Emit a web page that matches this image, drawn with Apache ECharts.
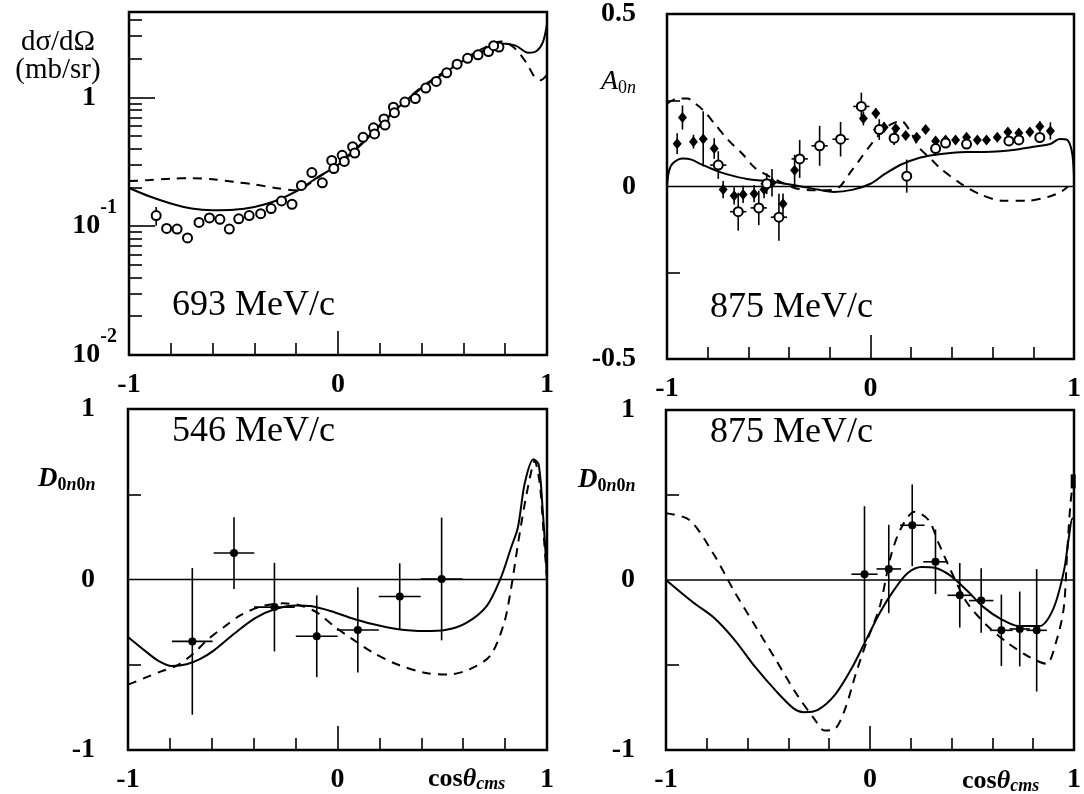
<!DOCTYPE html>
<html><head><meta charset="utf-8">
<script src="https://cdn.jsdelivr.net/npm/echarts@6/dist/echarts.min.js"></script>
<style>html,body{margin:0;padding:0;background:#fff}#c{width:1084px;height:794px}</style>
</head><body><div id="c"></div><script>
const SERIF = '"Liberation Serif","Times New Roman",serif';

// ---- tick / label values ----
const xLabelVals = [-1, 0, 1];
const xMinorTicks = [-0.8, -0.6, -0.4, -0.2, 0.2, 0.4, 0.6, 0.8];
const xMajorTicks = [0];
const logLabelVals = [0.01, 0.1, 1];
const logMinorTicks = [0.02,0.03,0.04,0.05,0.06,0.07,0.08,0.09,0.2,0.3,0.4,0.5,0.6,0.7,0.8,0.9,2,3,4];
const logMajorTicks = [0.1, 1];
const aLabelVals = [-0.5, 0, 0.5];
const aTicks = [-0.25, 0.25];
const dLabelVals = [-1, 0, 1];
const dTicks = [-0.5, 0.5];
const energyLabels = ['693 MeV/c', '875 MeV/c', '546 MeV/c', '875 MeV/c'];

// ---- panel 1: dsigma/dOmega at 693 MeV/c ----
const xsPoints = [
 [-0.87,0.121],[-0.82,0.096],[-0.77,0.095],[-0.72,0.081],[-0.665,0.107],[-0.615,0.116],[-0.565,0.113],
 [-0.52,0.095],[-0.475,0.114],[-0.425,0.121],[-0.37,0.125],[-0.32,0.137],[-0.27,0.157],[-0.22,0.148],
 [-0.175,0.207],[-0.125,0.261],[-0.075,0.217],[-0.03,0.324],[-0.02,0.28],[0.02,0.355],[0.03,0.318],
 [0.07,0.414],[0.08,0.37],[0.12,0.49],[0.17,0.58],[0.175,0.52],[0.22,0.68],[0.225,0.61],[0.265,0.84],
 [0.27,0.76],[0.32,0.92],[0.37,0.98],[0.42,1.18],[0.47,1.33],[0.52,1.55],[0.57,1.81],[0.62,2.01],
 [0.67,2.14],[0.72,2.27],[0.77,2.46],[0.745,2.52]
];
const xsErrors = [[-0.87,0.121,0,0.02]];
const xsSolid = [
 [-1,0.198],[-0.9,0.17],[-0.8,0.15],[-0.7,0.137],[-0.6,0.133],[-0.5,0.134],[-0.4,0.141],[-0.3,0.157],
 [-0.2,0.186],[-0.1,0.238],[0,0.299],[0.1,0.414],[0.2,0.6],[0.3,0.867],[0.4,1.18],[0.5,1.51],[0.6,1.93],
 [0.7,2.32],[0.78,2.62],[0.85,2.52],[0.91,2.22],[0.95,2.29],[0.98,2.67],[1,3.7]
];
const xsDashed = [
 [-1,0.224],[-0.9,0.228],[-0.8,0.234],[-0.7,0.236],[-0.6,0.231],[-0.5,0.221],[-0.4,0.211],[-0.3,0.198],
 [-0.2,0.19],[-0.1,0.236],[0,0.305],[0.1,0.42],[0.2,0.61],[0.3,0.88],[0.4,1.2],[0.5,1.55],[0.6,1.98],
 [0.7,2.42],[0.78,2.72],[0.84,2.45],[0.9,1.87],[0.94,1.45],[0.97,1.36],[1,1.5]
];

// ---- panel 2: A0n at 875 MeV/c ----  [u, v, errV]
const aFilled = [
 [-0.95,0.124,0.03],[-0.924,0.2,0.035],[-0.87,0.13,0.02],[-0.822,0.138,0.08],[-0.768,0.11,0.03],
 [-0.724,-0.009,0.025],[-0.67,-0.027,0.025],[-0.626,-0.023,0.025],[-0.572,-0.021,0.025],[-0.523,-0.009,0.025],
 [-0.484,0.011,0.04],[-0.43,-0.05,0.03],[-0.373,0.047,0.045],[-0.035,0.197,0.02],[0.026,0.212,0.015],
 [0.067,0.172,0.015],[0.124,0.168,0.01],[0.173,0.148,0.01],[0.227,0.143,0.01],[0.271,0.165,0.01],
 [0.32,0.132,0.01],[0.369,0.135,0.01],[0.418,0.135,0.01],[0.472,0.143,0.01],[0.525,0.135,0.01],
 [0.57,0.135,0.01],[0.623,0.143,0.01],[0.675,0.158,0.01],[0.729,0.155,0.01],[0.783,0.158,0.01],
 [0.832,0.174,0.015],[0.884,0.161,0.025]
];
// [u, v, errU, errV]
const aOpen = [
 [-0.748,0.062,0.04,0.04],[-0.65,-0.073,0.04,0.055],[-0.549,-0.062,0.04,0.05],[-0.51,0.008,0.03,0.03],
 [-0.45,-0.089,0.04,0.068],[-0.348,0.08,0.04,0.055],[-0.25,0.118,0.04,0.058],[-0.147,0.137,0.04,0.05],
 [-0.045,0.232,0.04,0.04],[0.043,0.165,0.03,0.03],[0.116,0.14,0.02,0.02],[0.178,0.03,0,0.048],
 [0.32,0.11,0.02,0.02],[0.369,0.126,0,0],[0.472,0.123,0,0],[0.68,0.132,0,0],[0.729,0.135,0,0],[0.832,0.142,0,0]
];
const aSolid = [
 [-1,0],[-0.99,0.045],[-0.97,0.068],[-0.922,0.081],[-0.88,0.078],[-0.83,0.064],[-0.75,0.044],[-0.67,0.03],
 [-0.59,0.02],[-0.5,0.015],[-0.42,0.008],[-0.34,0],[-0.26,-0.009],[-0.18,-0.016],[-0.085,-0.009],[0,0.008],
 [0.067,0.035],[0.148,0.063],[0.23,0.081],[0.31,0.091],[0.393,0.097],[0.475,0.1],[0.556,0.1],[0.638,0.102],
 [0.72,0.107],[0.8,0.115],[0.883,0.123],[0.93,0.138],[0.965,0.136],[0.99,0.1],[1,0.03]
];
const aDashed = [
 [-1,0.24],[-0.95,0.255],[-0.9,0.255],[-0.86,0.24],[-0.82,0.22],[-0.77,0.185],[-0.7,0.135],[-0.63,0.095],
 [-0.57,0.055],[-0.5,0.03],[-0.43,0.01],[-0.37,-0.005],[-0.28,-0.011],[-0.19,-0.01],[-0.15,0.0],[-0.1,0.04],
 [-0.05,0.08],[0,0.12],[0.05,0.155],[0.1,0.18],[0.15,0.19],[0.2,0.155],[0.24,0.112],[0.3,0.078],[0.34,0.054],
 [0.44,0.01],[0.54,-0.023],[0.65,-0.041],[0.77,-0.041],[0.88,-0.029],[0.94,-0.014],[0.97,0]
];

// ---- panel 3: D0n0n at 546 MeV/c ---- [u, v, errU, errV]
const d546Points = [
 [-0.693,-0.363,0.097,0.43],[-0.494,0.155,0.097,0.21],[-0.301,-0.162,0.097,0.26],[-0.099,-0.333,0.1,0.24],
 [0.097,-0.296,0.1,0.25],[0.297,-0.1,0.1,0.195],[0.497,0.003,0.1,0.36]
];
const d546Solid = [
 [-1,-0.337],[-0.92,-0.417],[-0.855,-0.477],[-0.79,-0.507],[-0.72,-0.497],[-0.657,-0.467],[-0.591,-0.417],
 [-0.492,-0.317],[-0.393,-0.227],[-0.294,-0.172],[-0.195,-0.152],[-0.129,-0.156],[-0.03,-0.186],[0.068,-0.227],
 [0.167,-0.261],[0.283,-0.29],[0.415,-0.302],[0.514,-0.296],[0.613,-0.256],[0.712,-0.156],[0.778,0.005],
 [0.828,0.185],[0.861,0.305],[0.894,0.566],[0.935,0.706],[0.96,0.676],[0.98,0.4],[1,0.02]
];
const d546Dashed = [
 [-1,-0.617],[-0.92,-0.577],[-0.838,-0.537],[-0.77,-0.507],[-0.69,-0.437],[-0.623,-0.356],[-0.54,-0.277],
 [-0.458,-0.206],[-0.359,-0.156],[-0.26,-0.14],[-0.177,-0.152],[-0.095,-0.196],[-0.013,-0.277],[0.068,-0.347],
 [0.167,-0.427],[0.283,-0.497],[0.415,-0.547],[0.53,-0.557],[0.63,-0.527],[0.729,-0.447],[0.795,-0.256],
 [0.828,-0.056],[0.861,0.205],[0.894,0.446],[0.927,0.646],[0.94,0.696],[0.965,0.566],[0.985,0.25],[1,0.0]
];

// ---- panel 4: D0n0n at 875 MeV/c ---- [u, v, errU, errV]
const d875Points = [
 [-0.027,0.034,0.064,0.4],[0.092,0.065,0.06,0.26],[0.207,0.322,0.06,0.24],[0.321,0.107,0.06,0.19],
 [0.44,-0.09,0.06,0.19],[0.545,-0.121,0.06,0.19],[0.644,-0.296,0.055,0.21],[0.734,-0.288,0.05,0.22],
 [0.817,-0.296,0.05,0.36]
];
const d875Edge = [[0.996,0.58]];
const d875Solid = [
 [-1,0],[-0.868,-0.131],[-0.766,-0.221],[-0.664,-0.352],[-0.562,-0.513],[-0.46,-0.654],[-0.375,-0.755],
 [-0.325,-0.778],[-0.256,-0.764],[-0.171,-0.674],[-0.087,-0.513],[-0.019,-0.352],[0.049,-0.191],[0.117,-0.06],
 [0.185,0.041],[0.253,0.077],[0.321,0.071],[0.389,0.03],[0.474,-0.06],[0.558,-0.161],[0.644,-0.231],
 [0.728,-0.271],[0.83,-0.271],[0.898,-0.171],[0.95,0.05],[0.975,0.252],[0.992,0.362],[1,0.36]
];
const d875Dashed = [
 [-1,0.393],[-0.885,0.353],[-0.766,0.151],[-0.664,-0.07],[-0.562,-0.271],[-0.46,-0.473],[-0.358,-0.674],
 [-0.274,-0.815],[-0.223,-0.885],[-0.171,-0.875],[-0.121,-0.755],[-0.07,-0.553],[-0.019,-0.372],[0.049,-0.151],
 [0.1,0.131],[0.151,0.302],[0.219,0.402],[0.287,0.353],[0.338,0.212],[0.406,0.03],[0.474,-0.131],[0.576,-0.271],
 [0.677,-0.372],[0.78,-0.452],[0.864,-0.493],[0.915,-0.353],[0.95,-0.162],[0.966,0.151],[0.983,0.453],[1,0.614]
];
const zeroLine = [[-1,0],[1,0]];

// ---------------------------------------------------------------
const grids = [
  {left:129, top:12, width:418, height:343},
  {left:667, top:14, width:408, height:345},
  {left:128, top:409, width:419, height:343},
  {left:666, top:410, width:409, height:345}
];
const lblFont = {color:'#000', fontFamily:SERIF, fontWeight:'bold', fontSize:28};
const tickLine = {color:'#000', width:1.6};
const noLine = {show:false, onZero:false};

function xMain(i){
  return {type:'value', gridIndex:i, min:-1, max:1, position:'bottom',
    axisLine:noLine, splitLine:{show:false},
    axisTick:{show:true, inside:true, length:12, customValues:xMinorTicks, lineStyle:tickLine},
    axisLabel:Object.assign({show:true, customValues:xLabelVals, margin:16, formatter:v=>String(v)}, lblFont)};
}
function xMajor(i){
  return {type:'value', gridIndex:i, min:-1, max:1, position:'bottom',
    axisLine:noLine, splitLine:{show:false}, axisLabel:{show:false},
    axisTick:{show:true, inside:true, length:24, customValues:xMajorTicks, lineStyle:tickLine}};
}
function yLin(i, min, max, ticks, labels, margin){
  return {type:'value', gridIndex:i, min:min, max:max, position:'left',
    axisLine:noLine, splitLine:{show:false},
    axisTick:{show:true, inside:true, length:13, customValues:ticks, lineStyle:tickLine},
    axisLabel:Object.assign({show:true, customValues:labels, margin:margin, formatter:v=>String(v)}, lblFont)};
}
const yLog = {type:'log', logBase:10, gridIndex:0, min:0.01, max:4.6, position:'left',
  axisLine:noLine, splitLine:{show:false},
  axisTick:{show:true, inside:true, length:13, customValues:logMinorTicks, lineStyle:tickLine},
  axisLabel:{show:true, customValues:logLabelVals, margin:12,
    formatter:function(v){
      const e = Math.round(Math.log10(v));
      return e === 0 ? '{n|1}{pad| }' : '{n|10}{sup|' + e + '}';
    },
    rich:{
      n:{fontFamily:SERIF, fontWeight:'bold', fontSize:28, color:'#000'},
      sup:{fontFamily:SERIF, fontWeight:'bold', fontSize:20, color:'#000', padding:[0,0,36,0]},
      pad:{width:21, fontSize:10}
    }}
};
const yLogMajor = {type:'log', logBase:10, gridIndex:0, min:0.01, max:4.6, position:'left',
  axisLine:noLine, splitLine:{show:false}, axisLabel:{show:false},
  axisTick:{show:true, inside:true, length:26, customValues:logMajorTicks, lineStyle:tickLine}};

function errRender(params, api){
  const x = api.value(0), y = api.value(1), ex = api.value(2), ey = api.value(3);
  const ch = [];
  const st = {stroke:'#000', lineWidth:1.6};
  if (ey > 0){
    const a = api.coord([x, y - ey]), b = api.coord([x, y + ey]);
    ch.push({type:'line', shape:{x1:a[0], y1:a[1], x2:b[0], y2:b[1]}, style:st});
  }
  if (ex > 0){
    const a = api.coord([x - ex, y]), b = api.coord([x + ex, y]);
    ch.push({type:'line', shape:{x1:a[0], y1:a[1], x2:b[0], y2:b[1]}, style:st});
  }
  return {type:'group', children:ch};
}
function errSeries(i, data){
  return {type:'custom', xAxisIndex:i, yAxisIndex:i, renderItem:errRender, clip:true,
    encode:{x:0, y:1}, data:data, z:4, silent:true};
}
function lineS(i, data, dashed, width){
  return {type:'line', xAxisIndex:i, yAxisIndex:i, data:data, showSymbol:false, symbol:'none',
    smooth: dashed === null ? false : 0.3, clip:true, silent:true,
    lineStyle:{color:'#000', width:width || 2, type: dashed ? [9,7] : 'solid'}, z:3};
}
function scatterS(i, data, symbol, size, open){
  return {type:'scatter', xAxisIndex:i, yAxisIndex:i, data:data, symbol:symbol, symbolSize:size, silent:true,
    itemStyle: open ? {color:'#fff', borderColor:'#000', borderWidth:2, opacity:1} : {color:'#000', opacity:1}, z:5};
}

const aFilledErr = aFilled.map(p => [p[0], p[1], 0, p[2]]);

const series = [
  // panel 1
  lineS(0, xsSolid, false), lineS(0, xsDashed, true),
  errSeries(0, xsErrors),
  scatterS(0, xsPoints.map(p => [p[0], p[1]]), 'circle', 9, true),
  // panel 2
  Object.assign(lineS(1, zeroLine, null, 1.6), {z:2}),
  lineS(1, aSolid, false), lineS(1, aDashed, true),
  errSeries(1, aFilledErr), errSeries(1, aOpen),
  scatterS(1, aFilled.map(p => [p[0], p[1]]), 'diamond', [9,11], false),
  scatterS(1, aOpen.map(p => [p[0], p[1]]), 'circle', 9, true),
  // panel 3
  Object.assign(lineS(2, zeroLine, null, 1.6), {z:2}),
  lineS(2, d546Solid, false), lineS(2, d546Dashed, true),
  errSeries(2, d546Points),
  scatterS(2, d546Points.map(p => [p[0], p[1]]), 'circle', 8, false),
  // panel 4
  Object.assign(lineS(3, zeroLine, null, 1.6), {z:2}),
  lineS(3, d875Solid, false), lineS(3, d875Dashed, true),
  errSeries(3, d875Points),
  scatterS(3, d875Points.map(p => [p[0], p[1]]), 'circle', 8, false),
  scatterS(3, d875Edge, 'rect', [5,14], false)
];

function txt(x, y, text, size, extra){
  return {type:'text', x:x, y:y, silent:true, z:10,
    style:Object.assign({text:text, fontFamily:SERIF, fontSize:size, fill:'#000', align:'left', verticalAlign:'middle'}, extra || {})};
}
const subBase = {fontFamily:SERIF, fontSize:18, fill:'#000', padding:[12,0,0,0]};
function dLabel(x, y){
  return {type:'text', x:x, y:y, silent:true, z:10,
    style:{text:'{D|D}{z|0}{n|n}{z|0}{n|n}', align:'left', verticalAlign:'middle',
      rich:{
        D:{fontFamily:SERIF, fontSize:27, fontStyle:'italic', fontWeight:'bold', fill:'#000'},
        z:Object.assign({fontWeight:'bold'}, subBase),
        n:Object.assign({fontWeight:'bold', fontStyle:'italic'}, subBase)
      }}};
}
function cosLabel(x, y){
  return {type:'text', x:x, y:y, silent:true, z:10,
    style:{text:'{c|cos}{t|θ}{s|cms}', align:'left', verticalAlign:'middle',
      rich:{
        c:{fontFamily:SERIF, fontSize:26, fontWeight:'bold', fill:'#000'},
        t:{fontFamily:SERIF, fontSize:26, fontWeight:'bold', fontStyle:'italic', fill:'#000'},
        s:{fontFamily:SERIF, fontSize:18, fontWeight:'bold', fontStyle:'italic', fill:'#000', padding:[10,0,0,0]}
      }}};
}

const option = {
  animation:false,
  backgroundColor:'#fff',
  grid: grids.map(g => Object.assign({show:true, borderWidth:2.5, borderColor:'#000', backgroundColor:'transparent'}, g)),
  xAxis: [xMain(0), xMain(1), xMain(2), xMain(3), xMajor(0), xMajor(1), xMajor(2), xMajor(3)],
  yAxis: [yLog, yLin(1, -0.5, 0.5, aTicks, aLabelVals, 31), yLin(2, -1, 1, dTicks, dLabelVals, 33),
          yLin(3, -1, 1, dTicks, dLabelVals, 31), yLogMajor],
  series: series,
  graphic: [
    txt(172, 306, energyLabels[0], 36),
    txt(710, 308, energyLabels[1], 36),
    txt(172, 432, energyLabels[2], 36),
    txt(710, 433, energyLabels[3], 36),
    txt(58, 56, 'dσ/dΩ\n(mb/sr)', 29, {align:'center', lineHeight:28}),
    {type:'text', x:601, y:82, silent:true, z:10,
      style:{text:'{A|A}{z|0}{n|n}', align:'left', verticalAlign:'middle',
        rich:{
          A:{fontFamily:SERIF, fontSize:28, fontStyle:'italic', fill:'#000'},
          z:Object.assign({}, subBase),
          n:Object.assign({fontStyle:'italic'}, subBase)
        }}},
    dLabel(38, 479),
    dLabel(578, 480),
    cosLabel(428, 779),
    cosLabel(962, 781)
  ]
};
const chart = echarts.init(document.getElementById('c'), null, {renderer:'canvas'});
chart.setOption(option);
</script></body></html>
